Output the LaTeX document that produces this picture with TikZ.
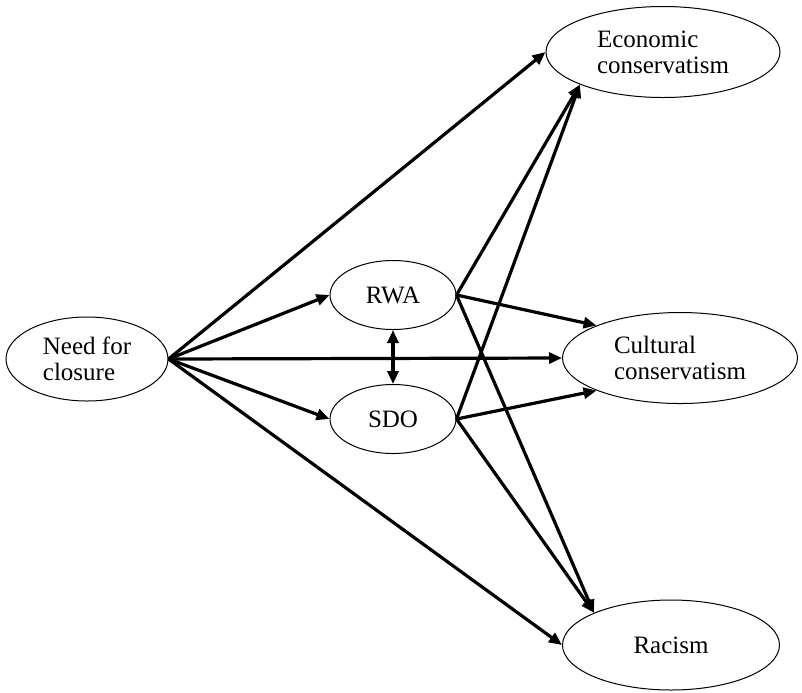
\documentclass[tikz,border=0pt]{standalone}
\usepackage{fontspec}
\setmainfont{Liberation Serif}
\usetikzlibrary{arrows.meta,shapes.geometric}

\begin{document}
\begin{tikzpicture}[
        x=0.5pt,
        y=-0.5pt,
        latent/.style={draw, ellipse, line width=0.5pt, inner sep=0pt, align=left, font=\fontsize{12.5}{13}\selectfont},
        effect/.style={line width=1.6pt, -{Triangle[length=6.5pt,width=5.5pt]}},
        covar/.style={line width=1.6pt, {Triangle[length=6.5pt,width=5.5pt]}-{Triangle[length=6.5pt,width=5.5pt]}}
    ]
        \useasboundingbox (0,0) rectangle (802,692);

        \node[latent, minimum width=81pt, minimum height=42pt] (nfc) at (87,359) {Need for\\closure};
        \node[latent, minimum width=63pt, minimum height=34.5pt] (rwa) at (393,295) {RWA};
        \node[latent, minimum width=63pt, minimum height=34.5pt] (sdo) at (393,419) {SDO};
        \node[latent, minimum width=117pt, minimum height=45.5pt] (econ) at (663,52) {Economic\\conservatism};
        \node[latent, minimum width=117.5pt, minimum height=45.5pt] (cult) at (680,358) {Cultural\\conservatism};
        \node[latent, minimum width=108.5pt, minimum height=45pt] (rac) at (671,645) {Racism};

        \draw[effect] (nfc.east) -- (econ.west);
        \draw[effect] (nfc.east) -- (rwa.west);
        \draw[effect] (nfc.east) -- (cult.west);
        \draw[effect] (nfc.east) -- (sdo.west);
        \draw[effect] (nfc.east) -- (rac.west);

        \draw[effect] (rwa.east) -- (econ.south west);
        \draw[effect] (rwa.east) -- (cult.north west);
        \draw[effect] (rwa.east) -- (rac.north west);
        \draw[effect] (sdo.east) -- (econ.south west);
        \draw[effect] (sdo.east) -- (cult.south west);
        \draw[effect] (sdo.east) -- (rac.north west);

        \draw[covar] (rwa.south) -- (sdo.north);
    \end{tikzpicture}
\end{document}
